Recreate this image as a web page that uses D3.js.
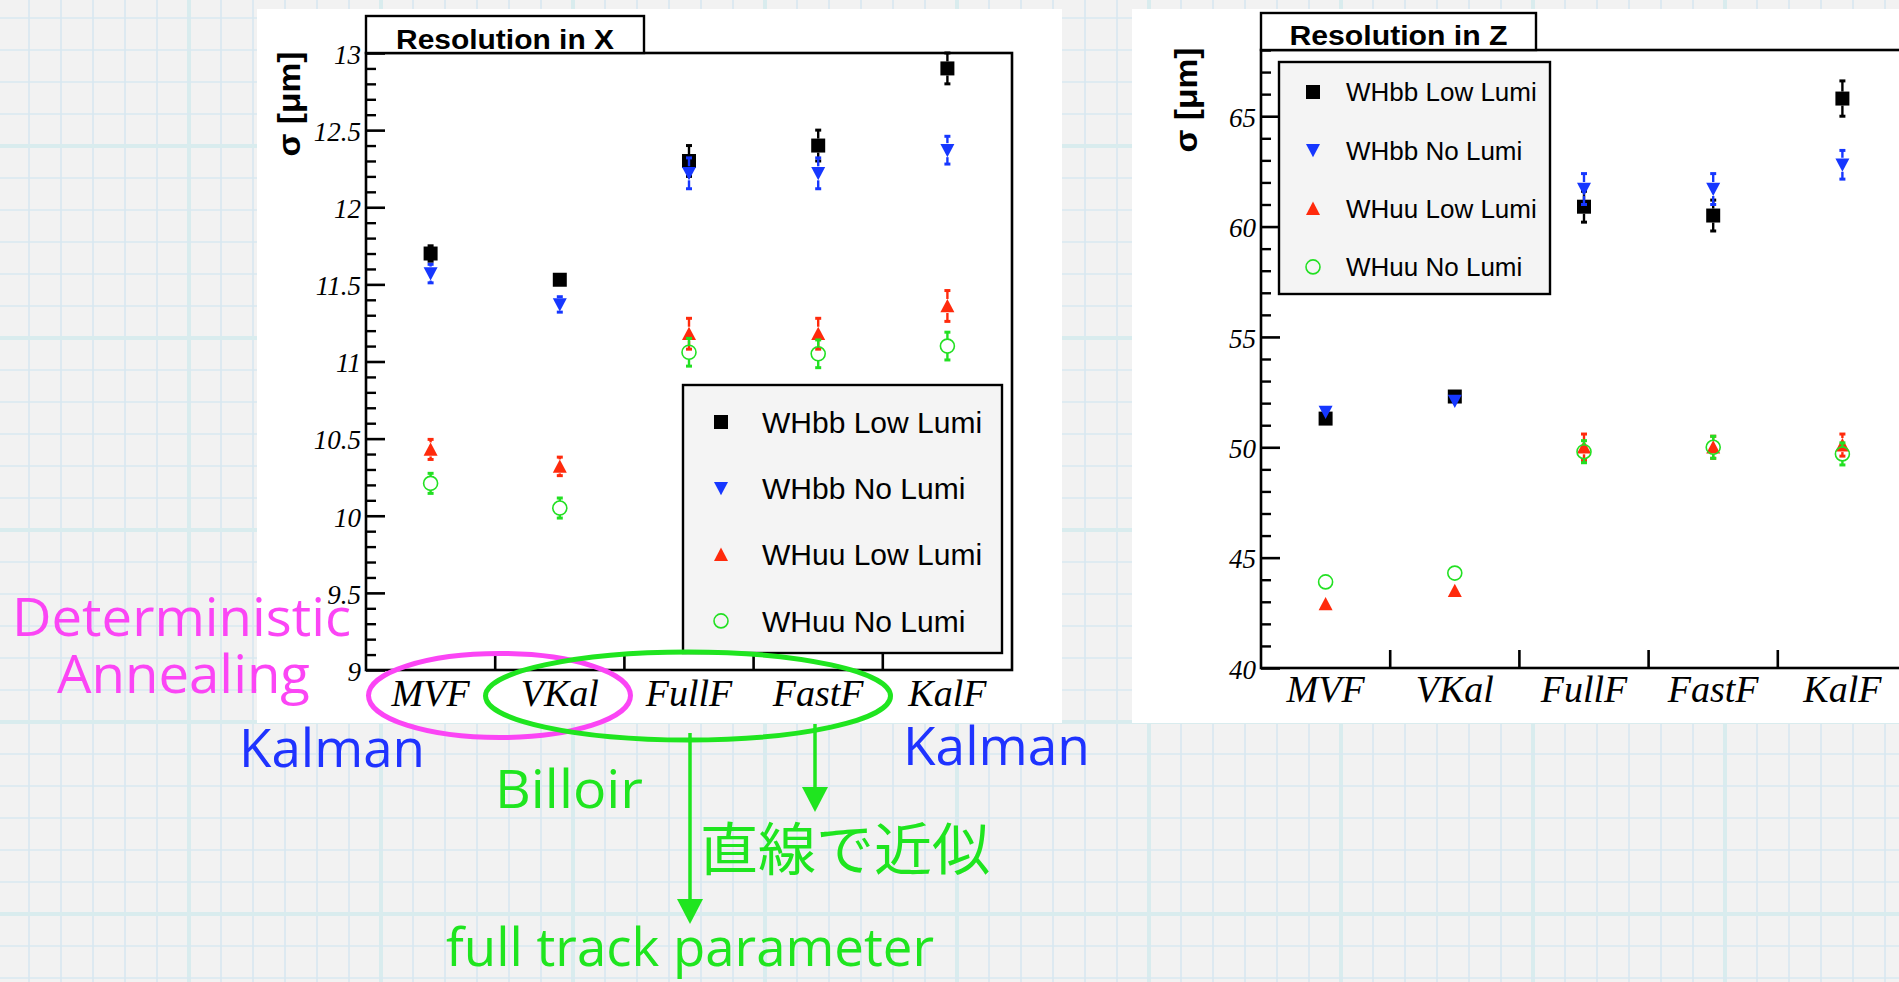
<!DOCTYPE html>
<html>
<head>
<meta charset="utf-8">
<script src="https://cdn.jsdelivr.net/npm/d3@7"></script>
<style>
  html, body { margin: 0; padding: 0; overflow: hidden; background: #f2f2f2; }
  svg { display: block; }
</style>
</head>
<body>
<svg id="chart" width="1899" height="982"></svg>
<script>
// ---- data -------------------------------------------------------------
const methods = ["MVF", "VKal", "FullF", "FastF", "KalF"];
const seriesLabels = ["WHbb Low Lumi", "WHbb No Lumi", "WHuu Low Lumi", "WHuu No Lumi"];

// vertex resolution in X [μm]
const resXWHbbLow    = [11.70, 11.53, 12.30, 12.40, 12.90];
const resXWHbbLowErr = [0.05, 0.04, 0.10, 0.10, 0.10];
const resXWHbbNo     = [11.57, 11.37, 12.22, 12.22, 12.37];
const resXWHbbNoErr  = [0.06, 0.05, 0.10, 0.10, 0.09];
const resXWHuuLow    = [10.43, 10.32, 11.18, 11.18, 11.36];
const resXWHuuLowErr = [0.065, 0.06, 0.10, 0.10, 0.10];
const resXWHuuNo     = [10.21, 10.05, 11.06, 11.05, 11.10];
const resXWHuuNoErr  = [0.065, 0.065, 0.09, 0.09, 0.09];

// vertex resolution in Z [μm]
const resZWHbbLow    = [51.3, 52.3, 60.9, 60.5, 65.8];
const resZWHbbLowErr = [0.25, 0.25, 0.7, 0.7, 0.8];
const resZWHbbNo     = [51.6, 52.1, 61.7, 61.7, 62.8];
const resZWHbbNoErr  = [0.25, 0.25, 0.7, 0.7, 0.65];
const resZWHuuLow    = [42.9, 43.5, 50.0, 50.0, 50.1];
const resZWHuuLowErr = [0.2, 0.2, 0.6, 0.5, 0.5];
const resZWHuuNo     = [43.9, 44.3, 49.8, 50.0, 49.7];
const resZWHuuNoErr  = [0.2, 0.2, 0.5, 0.5, 0.5];

// axis ticks
const xMajorTicks = [9, 9.5, 10, 10.5, 11, 11.5, 12, 12.5, 13];
const zMajorTicks = [40, 45, 50, 55, 60, 65];

// ---- styles -----------------------------------------------------------
const BLACK = "#000000", BLUE = "#1637ff", RED = "#ff2a0c", GREEN = "#22e022";
const seriesStyles = [
  { shape: "square", color: BLACK },
  { shape: "down",   color: BLUE },
  { shape: "up",     color: RED },
  { shape: "circle", color: GREEN }
];
const NOTE_MAGENTA = "#fb45f5", NOTE_BLUE = "#1f33ff", NOTE_GREEN = "#1fe51f";

const svg = d3.select("#chart");
const defs = svg.append("defs");
defs.append("filter").attr("id", "soft")
  .append("feGaussianBlur").attr("stdDeviation", 0.7);

// ---- graph-paper background ------------------------------------------
svg.append("rect").attr("width", 1899).attr("height", 982).attr("fill", "#f2f2f2");
const paper = svg.append("g").attr("filter", "url(#soft)");
const vLines = d3.range(29, 1899, 32);
const hLines = d3.range(18, 982, 32);
paper.selectAll(".v").data(vLines).join("line")
  .attr("x1", d => d).attr("x2", d => d).attr("y1", 0).attr("y2", 982)
  .attr("stroke", d => ((d - 189) % 192 === 0) ? "#d9ecee" : "#d8e8f0")
  .attr("stroke-width", d => ((d - 189) % 192 === 0) ? 4 : 1.6);
paper.selectAll(".h").data(hLines).join("line")
  .attr("y1", d => d).attr("y2", d => d).attr("x1", 0).attr("x2", 1899)
  .attr("stroke", d => ((d - 146) % 192 === 0) ? "#d9ecee" : "#d8e8f0")
  .attr("stroke-width", d => ((d - 146) % 192 === 0) ? 4 : 1.6);

// ---- marker shapes ----------------------------------------------------
function markerPath(shape, s) {
  const h = s / 2;
  if (shape === "square") return `M${-h},${-h}H${h}V${h}H${-h}Z`;
  if (shape === "down")   return `M${-h},${-h * 0.9}H${h}L0,${h}Z`;
  if (shape === "up")     return `M${-h},${h * 0.9}H${h}L0,${-h}Z`;
  return "";
}
function drawMarker(g, style, cx, cy, size) {
  if (style.shape === "circle") {
    g.append("circle").attr("cx", cx).attr("cy", cy).attr("r", size / 2)
      .attr("fill", "none").attr("stroke", style.color).attr("stroke-width", 1.6);
  } else {
    g.append("path").attr("d", markerPath(style.shape, size))
      .attr("transform", `translate(${cx},${cy})`).attr("fill", style.color);
  }
}

// ---- one ROOT-style panel --------------------------------------------
function drawPanel(cfg) {
  const g = svg.append("g");
  // white canvas
  g.append("rect").attr("x", cfg.pad[0]).attr("y", cfg.pad[1])
    .attr("width", cfg.pad[2]).attr("height", cfg.pad[3]).attr("fill", "#ffffff");

  const x = d3.scaleBand().domain(methods).range([cfg.x0, cfg.x0 + cfg.w]);
  const y = d3.scaleLinear().domain(cfg.domain).range([cfg.y0 + cfg.h, cfg.y0]);
  const bottom = cfg.y0 + cfg.h;

  // minor ticks on y
  const minor = d3.range(cfg.domain[0], cfg.domain[1] + 1e-9, cfg.minorStep)
    .filter(v => !cfg.major.some(m => Math.abs(m - v) < 1e-6));
  const yMinor = g.append("g").attr("transform", `translate(${cfg.x0},0)`)
    .call(d3.axisLeft(y).tickValues(minor).tickSize(-10).tickFormat(""));
  yMinor.select(".domain").remove();
  yMinor.selectAll("line").attr("stroke", "#000").attr("stroke-width", 2.4);

  // major ticks on y
  const yMajor = g.append("g").attr("transform", `translate(${cfg.x0},0)`)
    .call(d3.axisLeft(y).tickValues(cfg.major).tickSize(-19).tickPadding(5)
      .tickFormat(d3.format("~g")));
  yMajor.select(".domain").remove();
  yMajor.selectAll("line").attr("stroke", "#000").attr("stroke-width", 2.6);
  yMajor.selectAll("text")
    .attr("font-family", "'Liberation Serif', 'Times New Roman', serif")
    .attr("font-style", "italic").attr("font-size", 27).attr("fill", "#000")
    .attr("dy", "0.38em");

  // category labels
  const xAxis = g.append("g").attr("transform", `translate(0,${bottom})`)
    .call(d3.axisBottom(x).tickSize(0).tickPadding(0));
  xAxis.select(".domain").remove();
  xAxis.selectAll("text")
    .attr("dy", null).attr("y", cfg.labelDy)
    .attr("font-family", "'Liberation Serif', 'Times New Roman', serif")
    .attr("font-style", "italic").attr("font-size", 38).attr("fill", "#000");

  // boundary ticks between categories
  g.selectAll(null).data(methods.slice(1)).join("line")
    .attr("x1", d => x(d)).attr("x2", d => x(d))
    .attr("y1", bottom).attr("y2", bottom - 18)
    .attr("stroke", "#000").attr("stroke-width", 2.6);

  // frame
  g.append("rect").attr("x", cfg.x0).attr("y", cfg.y0)
    .attr("width", cfg.w).attr("height", cfg.h)
    .attr("fill", "none").attr("stroke", "#000").attr("stroke-width", 2.6);

  // title box
  g.append("rect").attr("x", cfg.x0).attr("y", cfg.titleTop)
    .attr("width", cfg.titleW).attr("height", cfg.y0 - cfg.titleTop)
    .attr("fill", "#fff").attr("stroke", "#000").attr("stroke-width", 2.4);
  g.append("text").attr("x", cfg.x0 + cfg.titleW / 2).attr("y", cfg.titleBase)
    .attr("text-anchor", "middle")
    .attr("font-family", "'Liberation Sans', Arial, sans-serif")
    .attr("font-weight", "bold").attr("font-size", 27)
    .attr("textLength", 218).attr("lengthAdjust", "spacingAndGlyphs")
    .text(cfg.title);

  // y axis title
  g.append("text")
    .attr("transform", `translate(${cfg.yTitle[0]},${cfg.yTitle[1]}) rotate(-90)`)
    .attr("text-anchor", "middle")
    .attr("font-family", "'Liberation Sans', Arial, sans-serif")
    .attr("font-weight", "bold").attr("font-size", 31)
    .attr("textLength", 105).attr("lengthAdjust", "spacingAndGlyphs")
    .text("σ [μm]");

  // data points with error bars
  const half = 7;
  const pts = g.append("g");
  cfg.series.forEach((s, i) => {
    const st = seriesStyles[i];
    methods.forEach((m, j) => {
      const cx = x(m) + x.bandwidth() / 2;
      const cy = y(s.values[j]);
      const yTop = y(s.values[j] + s.errors[j]);
      const yBot = y(s.values[j] - s.errors[j]);
      if (cy - yTop > half) {
        pts.append("line").attr("x1", cx).attr("x2", cx).attr("y1", yTop).attr("y2", cy - half)
          .attr("stroke", st.color).attr("stroke-width", 2.4);
        pts.append("line").attr("x1", cx - 3).attr("x2", cx + 3).attr("y1", yTop).attr("y2", yTop)
          .attr("stroke", st.color).attr("stroke-width", 3);
      }
      if (yBot - cy > half) {
        pts.append("line").attr("x1", cx).attr("x2", cx).attr("y1", cy + half).attr("y2", yBot)
          .attr("stroke", st.color).attr("stroke-width", 2.4);
        pts.append("line").attr("x1", cx - 3).attr("x2", cx + 3).attr("y1", yBot).attr("y2", yBot)
          .attr("stroke", st.color).attr("stroke-width", 3);
      }
      drawMarker(pts, st, cx, cy, 14);
    });
  });

  // legend
  const L = cfg.legend;
  const lg = g.append("g");
  lg.append("rect").attr("x", L.x).attr("y", L.y).attr("width", L.w).attr("height", L.h)
    .attr("fill", "#f4f4f4").attr("stroke", "#000").attr("stroke-width", 2.4);
  seriesLabels.forEach((label, i) => {
    const ry = L.firstRow + i * L.rowStep;
    drawMarker(lg, seriesStyles[i], L.markerX, ry, 14);
    lg.append("text").attr("x", L.textX).attr("y", ry + L.font * 0.36)
      .attr("font-family", "'Liberation Sans', Arial, sans-serif")
      .attr("font-size", L.font).attr("fill", "#000").text(label);
  });
}

drawPanel({
  pad: [257, 9, 805, 714],
  x0: 366, y0: 53, w: 646, h: 617,
  domain: [9, 13], major: xMajorTicks, minorStep: 0.1,
  labelDy: 36,
  titleTop: 16, titleW: 278, titleBase: 49, title: "Resolution in X",
  yTitle: [300, 104],
  series: [
    { values: resXWHbbLow, errors: resXWHbbLowErr },
    { values: resXWHbbNo,  errors: resXWHbbNoErr },
    { values: resXWHuuLow, errors: resXWHuuLowErr },
    { values: resXWHuuNo,  errors: resXWHuuNoErr }
  ],
  legend: { x: 683, y: 385, w: 319, h: 268, firstRow: 422, rowStep: 66.3,
            markerX: 721, textX: 762, font: 30 }
});

drawPanel({
  pad: [1132, 9, 800, 714],
  x0: 1261, y0: 50, w: 646, h: 618,
  domain: [40, 68], major: zMajorTicks, minorStep: 1,
  labelDy: 34,
  titleTop: 13, titleW: 275, titleBase: 45, title: "Resolution in Z",
  yTitle: [1197, 100],
  series: [
    { values: resZWHbbLow, errors: resZWHbbLowErr },
    { values: resZWHbbNo,  errors: resZWHbbNoErr },
    { values: resZWHuuLow, errors: resZWHuuLowErr },
    { values: resZWHuuNo,  errors: resZWHuuNoErr }
  ],
  legend: { x: 1279, y: 62, w: 271, h: 232, firstRow: 92, rowStep: 58.3,
            markerX: 1313, textX: 1346, font: 26 }
});

// ---- hand-drawn notes ------------------------------------------------
const notes = svg.append("g");
const noteFont = "'Open Sans', 'Noto Sans', sans-serif";
function note(txt, x0, x1, base, color, size, family) {
  notes.append("text").attr("x", x0).attr("y", base)
    .attr("font-family", family || noteFont).attr("font-size", size)
    .attr("fill", color)
    .attr("textLength", x1 - x0).attr("lengthAdjust", "spacingAndGlyphs")
    .text(txt);
}

// method-family ellipses
notes.append("ellipse").attr("cx", 499.5).attr("cy", 695.5).attr("rx", 131).attr("ry", 42)
  .attr("fill", "none").attr("stroke", NOTE_MAGENTA).attr("stroke-width", 5);
notes.append("ellipse").attr("cx", 688).attr("cy", 696).attr("rx", 202.5).attr("ry", 44)
  .attr("fill", "none").attr("stroke", NOTE_GREEN).attr("stroke-width", 5);

// arrows
function arrow(x, y0, tip) {
  notes.append("line").attr("x1", x).attr("x2", x).attr("y1", y0).attr("y2", tip - 20)
    .attr("stroke", NOTE_GREEN).attr("stroke-width", 3.5);
  notes.append("path").attr("d", `M${x - 13},${tip - 25}L${x + 13},${tip - 25}L${x},${tip}Z`)
    .attr("fill", NOTE_GREEN);
}
arrow(690, 733, 924);
arrow(815, 724, 812);

note("Deterministic", 12, 351, 636, NOTE_MAGENTA, 53);
note("Annealing", 57, 310, 693, NOTE_MAGENTA, 53);
note("Kalman", 239, 425, 767, NOTE_BLUE, 53);
note("Kalman", 903, 1090, 765, NOTE_BLUE, 53);
note("Billoir", 495, 643, 808, NOTE_GREEN, 53);
note("直線で近似", 700, 990, 870, NOTE_GREEN, 57, "'Noto Sans CJK JP', sans-serif");
note("full track parameter", 446, 934, 966, NOTE_GREEN, 53);
</script>
</body>
</html>
